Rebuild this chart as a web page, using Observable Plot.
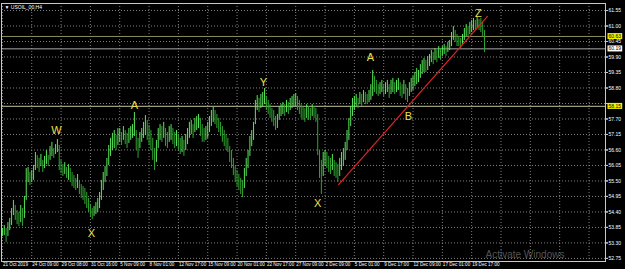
<!DOCTYPE html>
<html>
<head>
<meta charset="utf-8">
<script src="https://cdn.jsdelivr.net/npm/d3@7"></script>
<script src="https://cdn.jsdelivr.net/npm/@observablehq/plot@0.6"></script>
<style>
  html, body { margin: 0; padding: 0; background: #000; }
</style>
</head>
<body>
<script>
// ---- Data ----
const symbolTitle = "\u25BC USOIL_00,H4";
const dateLabels = ["21 Oct 2019","24 Oct 09:00","29 Oct 08:00","31 Oct 16:00","5 Nov 09:00","8 Nov 01:00",
  "12 Nov 17:00","15 Nov 09:00","20 Nov 01:00","22 Nov 17:00","27 Nov 09:00","2 Dec 09:00","5 Dec 01:00",
  "9 Dec 17:00","12 Dec 09:00","17 Dec 01:00","19 Dec 17:00"];
const barsPerLabel = 16;
const priceTicks = [61.55,61.00,60.45,59.90,59.35,58.80,58.25,57.70,57.15,56.60,56.05,55.50,54.95,54.40,53.85,53.30,52.75];
const hiddenPriceLabels = [58.25]; // covered by the 58.15 level box in the picture

const highs = [
53.81,53.92,53.81,54.02,54.17,54.52,54.81,54.63,54.45,54.38,54.63,54.52,54.95,55.94,55.98,55.80,
55.87,56.05,56.51,56.40,56.30,56.44,56.23,56.37,56.58,56.40,56.72,56.87,56.65,56.79,56.97,56.76,
56.23,56.08,56.15,55.98,56.08,55.94,55.80,55.69,55.59,55.73,55.52,55.37,55.30,55.23,55.09,54.88,
54.66,54.52,54.59,54.73,54.88,55.09,55.52,55.80,56.01,56.30,56.76,57.01,57.19,57.29,57.11,57.36,
57.36,57.22,57.43,57.29,57.19,57.36,57.43,57.50,57.93,57.29,57.01,57.22,57.36,57.58,57.82,57.65,
57.47,57.29,57.01,56.65,56.94,57.36,57.50,57.43,57.58,57.36,57.22,57.43,57.50,57.36,57.22,57.29,
57.15,57.01,57.08,56.94,57.15,57.36,57.58,57.65,57.50,57.72,57.79,57.86,57.72,57.50,57.36,57.43,
57.58,57.79,58.00,58.11,58.00,57.86,57.72,57.58,57.43,57.29,57.15,57.01,56.72,56.58,56.30,56.01,
55.87,55.73,55.59,55.52,55.94,56.30,56.58,57.08,57.29,57.58,58.36,58.53,58.43,58.57,58.64,58.78,
58.50,58.36,58.21,58.07,58.00,57.79,57.86,58.14,58.21,58.28,58.21,58.36,58.28,58.43,58.50,58.57,
58.60,58.50,58.36,58.21,58.14,58.07,58.21,58.14,58.07,58.21,58.14,58.07,57.86,56.58,56.23,56.51,
56.58,56.51,56.37,56.30,56.44,56.23,56.15,56.08,56.30,56.51,56.65,56.87,57.29,57.72,58.14,58.43,
58.50,58.57,58.43,58.64,58.57,58.71,58.64,58.57,58.71,58.92,59.42,59.21,59.07,58.92,58.99,59.07,
58.92,58.99,59.07,58.92,59.07,59.14,58.99,59.07,59.14,58.99,58.92,59.07,58.92,58.78,58.99,59.14,
59.21,59.35,59.49,59.42,59.63,59.78,59.85,59.78,59.92,59.99,60.13,60.06,60.20,60.13,60.27,60.20,
60.27,60.35,60.27,60.42,60.49,60.77,60.98,60.84,60.70,60.63,60.56,60.70,60.91,61.05,60.98,61.13,
61.20,61.27,61.20,61.30,61.23,61.27,61.13,60.84];

const lows = [
53.53,53.56,53.31,53.53,53.74,53.92,54.27,54.10,53.95,53.88,54.02,53.88,54.17,54.81,55.44,55.34,
55.44,55.52,55.87,55.94,55.80,56.01,55.80,55.94,56.08,56.01,56.23,56.37,56.30,56.44,56.51,55.87,
55.76,55.66,55.73,55.59,55.52,55.44,55.30,55.23,55.16,55.23,55.02,54.88,54.81,54.66,54.52,54.38,
54.24,54.13,54.24,54.31,54.38,54.52,54.81,55.16,55.44,55.66,56.05,56.37,56.58,56.65,56.58,56.76,
56.87,56.76,56.94,56.79,56.65,56.83,56.94,57.01,57.08,56.58,56.30,56.65,56.87,57.01,57.11,56.94,
56.76,56.58,56.23,55.87,56.15,56.65,56.94,56.87,57.01,56.72,56.65,56.87,56.94,56.79,56.65,56.72,
56.58,56.44,56.51,56.37,56.58,56.79,57.01,57.15,57.01,57.22,57.29,57.36,57.08,56.87,56.87,56.94,
57.01,57.22,57.43,57.58,57.50,57.36,57.22,57.08,56.87,56.72,56.58,56.51,56.15,55.94,55.69,55.44,
55.30,55.16,55.02,54.91,55.23,55.66,55.94,56.37,56.72,56.94,57.50,58.00,57.93,58.07,58.14,58.21,
58.00,57.86,57.72,57.58,57.43,57.29,57.36,57.65,57.79,57.86,57.79,57.93,57.86,58.00,58.07,58.14,
58.14,58.00,57.86,57.72,57.65,57.58,57.72,57.65,57.65,57.79,57.72,57.58,56.40,55.59,55.02,55.66,
56.01,55.94,55.80,55.73,55.87,55.66,55.59,55.44,55.66,55.87,56.01,56.23,56.58,56.94,57.43,57.79,
58.00,58.14,58.07,58.21,58.14,58.28,58.21,58.21,58.28,58.36,58.50,58.64,58.57,58.50,58.57,58.64,
58.50,58.57,58.64,58.43,58.57,58.64,58.57,58.64,58.71,58.50,58.43,58.57,58.36,58.28,58.50,58.64,
58.71,58.85,58.92,58.99,59.14,59.28,59.35,59.35,59.42,59.56,59.70,59.63,59.78,59.70,59.85,59.78,
59.92,59.99,59.92,60.06,60.13,60.27,60.49,60.42,60.27,60.27,60.20,60.35,60.49,60.63,60.63,60.70,
60.77,60.84,60.84,60.91,60.84,60.77,60.63,60.06];

const waveText  = ["W","X","A","Y","X","A","B","Z"];
const waveBar   = [29.5, 48.6, 72, 142.4, 172, 200.8, 221.5, 259.7];
const wavePrice = [57.29, 53.63, 58.18, 58.99, 54.70, 59.88, 57.79, 61.44];

const trendBar   = [183.4, 264.6];
const trendPrice = [55.37, 61.34];

const levelPrices = [60.63, 60.19, 58.15];
const levelLineColors = ["#8e8e5c", "#a9a9a9", "#c4c49a"];
const levelBoxColors  = ["#f2f200", "#ffffff", "#f2f200"];

// ---- Build tables ----
const bars = highs.map((h, i) => {
  const mid = (h + lows[i]) / 2;
  const prevMid = i > 0 ? (highs[i-1] + lows[i-1]) / 2 : mid;
  return {i, high: h, low: lows[i], up: mid >= prevMid};
});
const waves = waveText.map((t, k) => ({t, i: waveBar[k], p: wavePrice[k]}));
const trend = trendBar.map((b, k) => ({i: b, p: trendPrice[k]}));
const levels = levelPrices.map((p, k) => ({p, line: levelLineColors[k], box: levelBoxColors[k]}));
const labelTicks = dateLabels.map((d, k) => k * barsPerLabel);
const gridTicks = d3.range(0, 21).map(k => k * barsPerLabel);
const priceLabelTicks = priceTicks.filter(t => !hiddenPriceLabels.includes(t));

const chart = Plot.plot({
  width: 625,
  height: 269,
  marginLeft: 1,
  marginRight: 20,
  marginTop: 3,
  marginBottom: 8,
  style: {background: "#000", color: "#fff", fontFamily: "'Liberation Sans', Arial, sans-serif", fontSize: "5px"},
  x: {type: "linear", domain: [-0.5, 329]},
  y: {domain: [52.64, 61.80]},
  marks: [
    Plot.gridX(gridTicks, {stroke: "#a0a0a0", strokeOpacity: 0.8, strokeDasharray: "1,2"}),
    Plot.gridY(priceTicks, {stroke: "#a0a0a0", strokeOpacity: 0.8, strokeDasharray: "1,2"}),
    Plot.ruleY(levels, {y: "p", stroke: "line", strokeWidth: 1}),
    Plot.ruleX(bars, {x: "i", y1: "low", y2: "high", stroke: d => d.up ? "#5ae65a" : "#2fa52f", strokeWidth: 1}),
    Plot.line(trend, {x: "i", y: "p", stroke: "#e02424", strokeWidth: 1.2}),
    Plot.text(waves, {x: "i", y: "p", text: "t", fill: "#f0e04a", fontSize: 11}),
    Plot.frame({stroke: "#c8c8c8"}),
    Plot.axisY(priceTicks, {anchor: "right", tickSize: 2, tickPadding: 0, text: null, stroke: "#c8c8c8", label: null}),
    Plot.axisY(priceLabelTicks, {anchor: "right", tickSize: 2, tickPadding: 1, tickFormat: d => d.toFixed(2),
      fill: "#fff", stroke: "#c8c8c8", fontSize: 5, label: null}),
    Plot.axisX(labelTicks, {anchor: "bottom", tickSize: 0, tickPadding: 1.5, textAnchor: "start", dx: 0.5,
      tickFormat: d => dateLabels[d / barsPerLabel], fill: "#fff", fontSize: 4.6, label: null}),
    Plot.text(levels, {y: "p", frameAnchor: "right", text: d => d.p.toFixed(2), textAnchor: "start", dx: 3,
      fill: "#000", fontSize: 5, className: "pricebox", clip: false}),
    Plot.text([symbolTitle], {frameAnchor: "top-left", dx: 3, dy: 2, fill: "#fff", fontSize: 5}),
    Plot.text(["Activate Windows"], {frameAnchor: "bottom-right", textAnchor: "start", dx: -120, dy: -4,
      fill: "#6a6a6a", fontSize: 10, fillOpacity: 0.8})
  ]
});
document.body.append(chart);

// background boxes behind the current-level price labels
chart.querySelectorAll("g.pricebox text").forEach((t, k) => {
  const b = t.getBBox();
  const r = document.createElementNS("http://www.w3.org/2000/svg", "rect");
  r.setAttribute("x", b.x - 1);
  r.setAttribute("y", b.y);
  r.setAttribute("width", b.width + 2);
  r.setAttribute("height", b.height);
  r.setAttribute("fill", levels[k].box);
  const tr = t.getAttribute("transform");
  if (tr) r.setAttribute("transform", tr);
  t.parentNode.insertBefore(r, t);
});
</script>
</body>
</html>
